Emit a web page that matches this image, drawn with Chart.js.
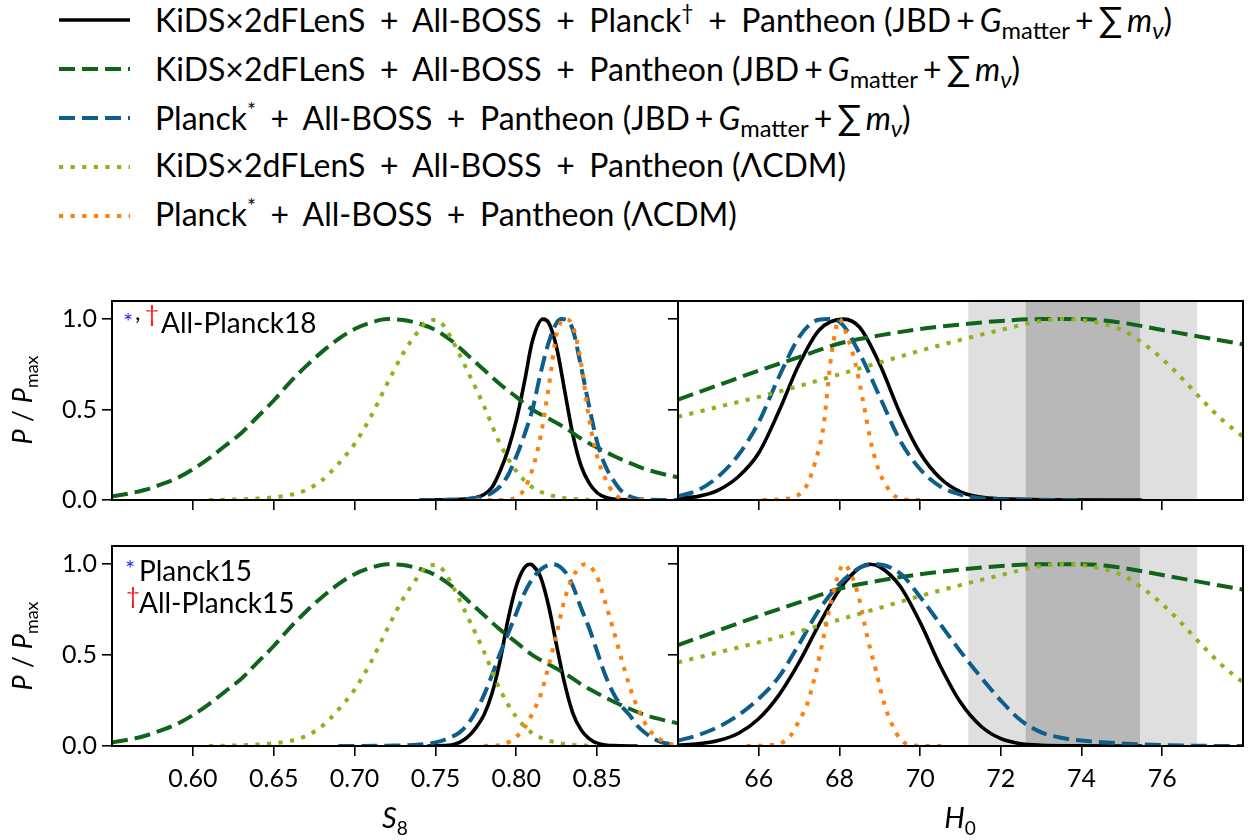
<!DOCTYPE html>
<html>
<head>
<meta charset="utf-8">
<title>S8 and H0 posteriors</title>
<script src="https://cdn.jsdelivr.net/npm/chart.js@4.4.1/dist/chart.umd.min.js"></script>
<style>
  html, body { margin: 0; padding: 0; background: #fff; }
  body { width: 1253px; height: 840px; position: relative; overflow: hidden; font-family: Lato, "DejaVu Sans", sans-serif; color: #000; }
  canvas { position: absolute; }
  .legend-row { position: absolute; left: 0; width: 1253px; height: 40px; font-size: 32px; white-space: nowrap; }
  .legend-row svg { position: absolute; left: 55px; top: 0; }
  .legend-row span.txt { position: absolute; left: 155px; top: -2px; line-height: 40px; }
  .op { margin: 0 0.2em; }
  .mop { margin: 0 0.16em; }
  .sum { font-size: 1.1em; margin-right: 0.12em; }
  .legend-row sub { font-size: 0.74em; }
  .note { position: absolute; font-size: 28px; line-height: 30px; white-space: nowrap; }
  .mark { position: absolute; font-size: 24px; line-height: 26px; }
  .blue { color: #2b2bff; }
  .red { color: #ff1a1a; }
  .ylab { position: absolute; width: 140px; height: 36px; line-height: 36px; text-align: center; font-size: 27px; transform: rotate(-90deg); white-space: nowrap; }
  .xlab { position: absolute; width: 100px; height: 40px; line-height: 40px; text-align: center; font-size: 29px; white-space: nowrap; }
  sub, sup { font-size: 0.66em; line-height: 0; }
</style>
</head>
<body>
<canvas id="tl"></canvas>
<canvas id="tr"></canvas>
<canvas id="bl"></canvas>
<canvas id="br"></canvas>

<div class="ylab" style="left:-48px; top:382px;"><i>P</i> / <i>P</i><sub>max</sub></div>
<div class="ylab" style="left:-48px; top:628px;"><i>P</i> / <i>P</i><sub>max</sub></div>
<div class="xlab" style="left:345px; top:797px;"><i>S</i><sub>8</sub></div>
<div class="xlab" style="left:910px; top:797px;"><i>H</i><sub>0</sub></div>

<!-- panel notes -->
<div class="mark blue" style="left:123px; top:308px;">*</div>
<div class="mark" style="left:135px; top:298px;">,</div>
<div class="mark red" style="left:145px; top:300px;">†</div>
<div class="note" style="left:161px; top:307px;">All-Planck18</div>

<div class="mark blue" style="left:125px; top:555px;">*</div>
<div class="note" style="left:139px; top:555px;">Planck15</div>
<div class="mark red" style="left:126px; top:582px;">†</div>
<div class="note" style="left:139px; top:587px;">All-Planck15</div>

<script>
// ---- tick values ----
const s8Ticks = [0.60, 0.65, 0.70, 0.75, 0.80, 0.85];
const h0Ticks = [66, 68, 70, 72, 74, 76];
const pTicks = [0.0, 0.5, 1.0];

// ---- S8 posteriors (P/Pmax), no Planck in these: same in both rows ----
const s8KidsJbdX = [0.55, 0.56, 0.57, 0.58, 0.59, 0.60, 0.61, 0.62, 0.63, 0.64, 0.65, 0.66, 0.67, 0.68, 0.69, 0.70, 0.71, 0.72,
  0.73, 0.74, 0.75, 0.76, 0.77, 0.78, 0.79, 0.80, 0.81, 0.82, 0.83, 0.84, 0.85, 0.86, 0.87, 0.88, 0.89, 0.90];
const s8KidsJbdY = [0.02, 0.035, 0.055, 0.085, 0.12, 0.17, 0.23, 0.30, 0.37, 0.46, 0.55, 0.65, 0.74, 0.82, 0.89, 0.945, 0.98, 1.0,
  0.995, 0.975, 0.94, 0.88, 0.80, 0.72, 0.64, 0.57, 0.50, 0.45, 0.40, 0.34, 0.29, 0.245, 0.205, 0.17, 0.145, 0.125];

const s8KidsLcdmX = [0.61, 0.62, 0.63, 0.64, 0.65, 0.66, 0.67, 0.68, 0.69, 0.70, 0.71, 0.72, 0.73, 0.74, 0.745, 0.75, 0.755,
  0.76, 0.77, 0.78, 0.79, 0.80, 0.81, 0.82, 0.83, 0.84, 0.85];
const s8KidsLcdmY = [0, 0.002, 0.004, 0.008, 0.015, 0.028, 0.055, 0.11, 0.20, 0.31, 0.46, 0.64, 0.81, 0.94, 0.99, 0.995, 0.965,
  0.89, 0.71, 0.52, 0.31, 0.16, 0.07, 0.03, 0.01, 0.003, 0];

// top row (All-Planck18)
const s8AllP18X = [0.742, 0.75, 0.76, 0.77, 0.775, 0.78, 0.785, 0.79, 0.795, 0.80, 0.805, 0.81, 0.8165, 0.82, 0.825, 0.83,
  0.835, 0.84, 0.845, 0.85, 0.855, 0.86, 0.87, 0.875];
const s8AllP18Y = [0, 0.001, 0.002, 0.007, 0.013, 0.03, 0.07, 0.16, 0.28, 0.44, 0.65, 0.88, 1.0, 0.98, 0.84, 0.60,
  0.36, 0.19, 0.095, 0.04, 0.015, 0.005, 0.001, 0];

const s8PlanckJbdP18X = [0.74, 0.76, 0.77, 0.775, 0.78, 0.785, 0.79, 0.795, 0.80, 0.805, 0.81, 0.815, 0.82, 0.825, 0.828,
  0.832, 0.835, 0.84, 0.845, 0.85, 0.855, 0.86, 0.865, 0.87, 0.875, 0.88, 0.89, 0.90];
const s8PlanckJbdP18Y = [0, 0.001, 0.005, 0.012, 0.02, 0.04, 0.075, 0.14, 0.24, 0.36, 0.50, 0.70, 0.87, 0.98, 1.0,
  0.99, 0.94, 0.74, 0.52, 0.32, 0.19, 0.11, 0.05, 0.02, 0.006, 0.002, 0, 0];

const s8PlanckLcdmP18X = [0.775, 0.79, 0.795, 0.80, 0.805, 0.81, 0.815, 0.82, 0.825, 0.8305, 0.835, 0.84, 0.845, 0.85,
  0.855, 0.86, 0.865, 0.87, 0.88];
const s8PlanckLcdmP18Y = [0, 0, 0.002, 0.015, 0.06, 0.17, 0.35, 0.62, 0.92, 1.0, 0.96, 0.76, 0.45, 0.24,
  0.12, 0.04, 0.008, 0.001, 0];

// bottom row (Planck15)
const s8AllP15X = [0.745, 0.755, 0.76, 0.765, 0.77, 0.775, 0.78, 0.785, 0.79, 0.795, 0.80, 0.805, 0.8085, 0.81, 0.815, 0.82,
  0.825, 0.83, 0.835, 0.84, 0.845, 0.85, 0.855, 0.86, 0.875];
const s8AllP15Y = [0, 0.002, 0.006, 0.02, 0.05, 0.10, 0.17, 0.29, 0.47, 0.70, 0.88, 0.98, 1.0, 0.995, 0.93, 0.77,
  0.55, 0.34, 0.18, 0.09, 0.04, 0.015, 0.006, 0.002, 0];

const s8PlanckJbdP15X = [0.69, 0.72, 0.74, 0.75, 0.76, 0.765, 0.77, 0.775, 0.78, 0.785, 0.79, 0.795, 0.80, 0.805, 0.81,
  0.815, 0.8225, 0.83, 0.835, 0.84, 0.845, 0.85, 0.855, 0.86, 0.865, 0.87, 0.875, 0.88, 0.885, 0.89, 0.90];
const s8PlanckJbdP15Y = [0, 0.002, 0.008, 0.02, 0.05, 0.075, 0.12, 0.19, 0.28, 0.39, 0.51, 0.62, 0.73, 0.84, 0.92,
  0.97, 1.0, 0.96, 0.88, 0.76, 0.65, 0.52, 0.39, 0.29, 0.22, 0.17, 0.11, 0.07, 0.04, 0.02, 0.005];

const s8PlanckLcdmP15X = [0.78, 0.79, 0.795, 0.80, 0.805, 0.81, 0.815, 0.82, 0.825, 0.83, 0.835, 0.8425, 0.85, 0.855,
  0.86, 0.865, 0.87, 0.875, 0.88, 0.885, 0.89, 0.895, 0.90];
const s8PlanckLcdmP15Y = [0, 0.005, 0.02, 0.05, 0.10, 0.18, 0.28, 0.44, 0.62, 0.81, 0.93, 1.0, 0.93, 0.79,
  0.64, 0.48, 0.33, 0.21, 0.12, 0.06, 0.03, 0.012, 0.005];

// ---- H0 posteriors ----
const h0KidsJbdX = [64, 65, 66, 67, 68, 69, 70, 71, 72, 73, 74, 75, 76, 77, 78];
const h0KidsJbdY = [0.555, 0.635, 0.715, 0.79, 0.865, 0.91, 0.945, 0.97, 0.99, 1.0, 1.0, 0.98, 0.94, 0.90, 0.86];

const h0KidsLcdmX = [64, 65, 66, 67, 68, 69, 70, 71, 72, 73, 73.5, 74, 74.5, 75, 75.5, 76, 76.5, 77, 77.5, 78];
const h0KidsLcdmY = [0.46, 0.515, 0.57, 0.63, 0.695, 0.76, 0.825, 0.885, 0.94, 0.99, 1.0, 0.995, 0.975, 0.94, 0.87, 0.78,
  0.67, 0.55, 0.44, 0.35];

const h0AllP18X = [64, 64.5, 65, 65.5, 66, 66.5, 67, 67.5, 68.1, 68.5, 69, 69.5, 70, 70.5, 71, 71.5, 72, 73, 75.5];
const h0AllP18Y = [0.01, 0.02, 0.055, 0.13, 0.26, 0.49, 0.75, 0.94, 1.0, 0.955, 0.75, 0.48, 0.26, 0.12, 0.045, 0.016, 0.006, 0.001, 0];

const h0PlanckJbdP18X = [64, 64.5, 65, 65.5, 66, 66.5, 67, 67.4, 67.7, 68, 68.5, 69, 69.5, 70, 70.5, 71, 71.5, 72, 73, 74];
const h0PlanckJbdP18Y = [0.02, 0.055, 0.13, 0.25, 0.43, 0.68, 0.90, 0.99, 1.0, 0.985, 0.81, 0.57, 0.33, 0.17, 0.075, 0.03,
  0.01, 0.004, 0.001, 0];

const h0PlanckLcdmP18X = [66.1, 66.5, 66.8, 67, 67.2, 67.4, 67.6, 67.8, 68, 68.2, 68.4, 68.6, 68.8, 69, 69.2, 69.4, 69.6, 70];
const h0PlanckLcdmP18Y = [0, 0.003, 0.012, 0.03, 0.085, 0.21, 0.40, 0.80, 1.0, 0.90, 0.75, 0.53, 0.30, 0.15, 0.066, 0.018, 0.003, 0];

const h0AllP15X = [64, 64.5, 65, 65.5, 66, 66.5, 67, 67.5, 68, 68.5, 68.75, 69, 69.5, 70, 70.5, 71, 71.5, 72, 72.5, 73, 74, 75.5];
const h0AllP15Y = [0.005, 0.012, 0.03, 0.07, 0.15, 0.28, 0.46, 0.67, 0.86, 0.98, 1.0, 0.985, 0.88, 0.68, 0.44, 0.24, 0.11,
  0.04, 0.012, 0.004, 0.001, 0];

const h0PlanckJbdP15X = [64, 64.5, 65, 65.5, 66, 66.5, 67, 67.5, 68, 68.5, 68.9, 69.5, 70, 70.5, 71, 71.5, 72, 72.5, 73,
  73.5, 74, 75, 76, 77, 78];
const h0PlanckJbdP15Y = [0.03, 0.06, 0.105, 0.17, 0.26, 0.38, 0.56, 0.75, 0.89, 0.98, 1.0, 0.95, 0.82, 0.67, 0.52, 0.38,
  0.25, 0.14, 0.075, 0.045, 0.03, 0.014, 0.005, 0.001, 0];

const h0PlanckLcdmP15X = [65.7, 66.3, 66.6, 66.8, 67, 67.2, 67.4, 67.6, 67.8, 68, 68.1, 68.3, 68.5, 68.7, 68.9, 69.1, 69.3,
  69.5, 69.7, 70, 70.6];
const h0PlanckLcdmP15Y = [0, 0.005, 0.02, 0.06, 0.14, 0.23, 0.39, 0.59, 0.80, 0.96, 1.0, 0.94, 0.80, 0.59, 0.42, 0.24, 0.12,
  0.04, 0.008, 0.001, 0];

// local H0 (SH0ES) 1 and 2 sigma ranges
const shoes1Sigma = [72.61, 75.45];
const shoes2Sigma = [71.19, 76.87];

// ---- series styling ----
const jbdModel = '(JBD<span class="mop">+</span><i>G</i><sub>matter</sub><span class="mop">+</span><span class="sum">∑</span><i>m</i><sub><i>ν</i></sub>)';
const seriesLabels = [
  'KiDS×2dFLenS <span class="op">+</span> All-BOSS <span class="op">+</span> Planck<sup>†</sup> <span class="op">+</span> Pantheon ' + jbdModel,
  'KiDS×2dFLenS <span class="op">+</span> All-BOSS <span class="op">+</span> Pantheon ' + jbdModel,
  'Planck<sup>*</sup> <span class="op">+</span> All-BOSS <span class="op">+</span> Pantheon ' + jbdModel,
  'KiDS×2dFLenS <span class="op">+</span> All-BOSS <span class="op">+</span> Pantheon (ΛCDM)',
  'Planck<sup>*</sup> <span class="op">+</span> All-BOSS <span class="op">+</span> Pantheon (ΛCDM)'
];
const seriesColors = ['#000000', '#10641a', '#0e5e8c', '#8cb31c', '#ff7f0e'];
const seriesDash = [[], [16, 7], [16, 7], [4.2, 7.4], [4.2, 7.4]];
const seriesWidth = [3.6, 4, 4, 4, 4];

const yMin = 0, yMax = 1.1;
const tickFont = { family: 'Lato', size: 25 };

function curve(i, xs, ys) {
  return {
    data: xs.map((x, k) => ({ x: x, y: ys[k] })),
    borderColor: seriesColors[i],
    borderDash: seriesDash[i],
    borderWidth: seriesWidth[i],
    borderCapStyle: 'butt',
    pointRadius: 0,
    fill: false,
    cubicInterpolationMode: 'monotone',
    order: 10 - i
  };
}

function band(range, color, order) {
  return {
    data: [{ x: range[0], y: yMax }, { x: range[1], y: yMax }],
    borderWidth: 0,
    borderColor: 'rgba(0,0,0,0)',
    backgroundColor: color,
    fill: 'origin',
    pointRadius: 0,
    order: order
  };
}

// black frame around each axes box
const framePlugin = {
  id: 'frame',
  afterDraw(chart) {
    const { ctx, chartArea: a } = chart;
    ctx.save();
    ctx.strokeStyle = '#000';
    ctx.lineWidth = 2;
    ctx.strokeRect(a.left, a.top, a.right - a.left, a.bottom - a.top);
    ctx.restore();
  }
};

function makePanel(id, box, cfg) {
  const canvas = document.getElementById(id);
  canvas.width = box.w;
  canvas.height = box.h;
  canvas.style.left = box.x + 'px';
  canvas.style.top = box.y + 'px';

  return new Chart(canvas, {
    type: 'line',
    data: { datasets: cfg.datasets },
    options: {
      responsive: false,
      animation: false,
      devicePixelRatio: 1,
      layout: { padding: { left: 0, right: box.padRight, top: box.padTop, bottom: 0 } },
      plugins: { legend: { display: false }, tooltip: { enabled: false } },
      scales: {
        x: {
          type: 'linear',
          min: cfg.xMin,
          max: cfg.xMax,
          afterBuildTicks: s => { s.ticks = cfg.xTicks.map(v => ({ value: v })); },
          afterFit: s => { s.height = box.xAxisH; s.paddingLeft = 0; s.paddingRight = 0; },
          ticks: { display: cfg.xLabels, color: '#000', font: tickFont, padding: 8, maxRotation: 0, autoSkip: false, callback: cfg.xFmt },
          grid: { display: true, drawOnChartArea: false, drawTicks: true, tickLength: 10, color: '#000', lineWidth: 1.6 },
          border: { display: true, color: '#000', width: 2 }
        },
        y: {
          type: 'linear',
          min: yMin,
          max: yMax,
          afterBuildTicks: s => { s.ticks = pTicks.map(v => ({ value: v })); },
          afterFit: s => { s.width = box.yAxisW; s.paddingTop = 0; s.paddingBottom = 0; },
          ticks: { display: cfg.yLabels, color: '#000', font: tickFont, padding: 5, callback: v => v.toFixed(1) },
          grid: { display: true, drawOnChartArea: false, drawTicks: true, tickLength: 10, color: '#000', lineWidth: 1.6 },
          border: { display: true, color: '#000', width: 2 }
        }
      }
    },
    plugins: [framePlugin]
  });
}

const s8Fmt = v => v.toFixed(2);
const h0Fmt = v => String(v);

makePanel('tl', { x: 0, y: 290, w: 690, h: 250, padTop: 11, padRight: 12, xAxisH: 40, yAxisW: 112 }, {
  xMin: 0.55, xMax: 0.90, xTicks: s8Ticks, xLabels: false, yLabels: true, xFmt: s8Fmt,
  datasets: [
    curve(0, s8AllP18X, s8AllP18Y),
    curve(1, s8KidsJbdX, s8KidsJbdY),
    curve(2, s8PlanckJbdP18X, s8PlanckJbdP18Y),
    curve(3, s8KidsLcdmX, s8KidsLcdmY),
    curve(4, s8PlanckLcdmP18X, s8PlanckLcdmP18Y)
  ]
});

makePanel('tr', { x: 660, y: 290, w: 593, h: 250, padTop: 11, padRight: 10, xAxisH: 40, yAxisW: 18 }, {
  xMin: 64, xMax: 78, xTicks: h0Ticks, xLabels: false, yLabels: false, xFmt: h0Fmt,
  datasets: [
    band(shoes2Sigma, '#dfdfdf', 21),
    band(shoes1Sigma, '#b8b8b8', 20),
    curve(0, h0AllP18X, h0AllP18Y),
    curve(1, h0KidsJbdX, h0KidsJbdY),
    curve(2, h0PlanckJbdP18X, h0PlanckJbdP18Y),
    curve(3, h0KidsLcdmX, h0KidsLcdmY),
    curve(4, h0PlanckLcdmP18X, h0PlanckLcdmP18Y)
  ]
});

makePanel('bl', { x: 0, y: 535, w: 690, h: 290, padTop: 11, padRight: 12, xAxisH: 79, yAxisW: 112 }, {
  xMin: 0.55, xMax: 0.90, xTicks: s8Ticks, xLabels: true, yLabels: true, xFmt: s8Fmt,
  datasets: [
    curve(0, s8AllP15X, s8AllP15Y),
    curve(1, s8KidsJbdX, s8KidsJbdY),
    curve(2, s8PlanckJbdP15X, s8PlanckJbdP15Y),
    curve(3, s8KidsLcdmX, s8KidsLcdmY),
    curve(4, s8PlanckLcdmP15X, s8PlanckLcdmP15Y)
  ]
});

makePanel('br', { x: 660, y: 535, w: 593, h: 290, padTop: 11, padRight: 10, xAxisH: 79, yAxisW: 18 }, {
  xMin: 64, xMax: 78, xTicks: h0Ticks, xLabels: true, yLabels: false, xFmt: h0Fmt,
  datasets: [
    band(shoes2Sigma, '#dfdfdf', 21),
    band(shoes1Sigma, '#b8b8b8', 20),
    curve(0, h0AllP15X, h0AllP15Y),
    curve(1, h0KidsJbdX, h0KidsJbdY),
    curve(2, h0PlanckJbdP15X, h0PlanckJbdP15Y),
    curve(3, h0KidsLcdmX, h0KidsLcdmY),
    curve(4, h0PlanckLcdmP15X, h0PlanckLcdmP15Y)
  ]
});

// legend above the panels, built from the same series styles
seriesLabels.forEach((label, i) => {
  const row = document.createElement('div');
  row.className = 'legend-row';
  row.style.top = (i * 49) + 'px';
  const dash = seriesDash[i].length ? seriesDash[i].join(' ') : 'none';
  row.innerHTML =
    '<svg width="80" height="40"><line x1="4" y1="20" x2="75" y2="20" stroke="' + seriesColors[i] +
    '" stroke-width="' + seriesWidth[i] + '" stroke-dasharray="' + dash + '"/></svg>' +
    '<span class="txt">' + label + '</span>';
  document.body.appendChild(row);
});
</script>
</body>
</html>
